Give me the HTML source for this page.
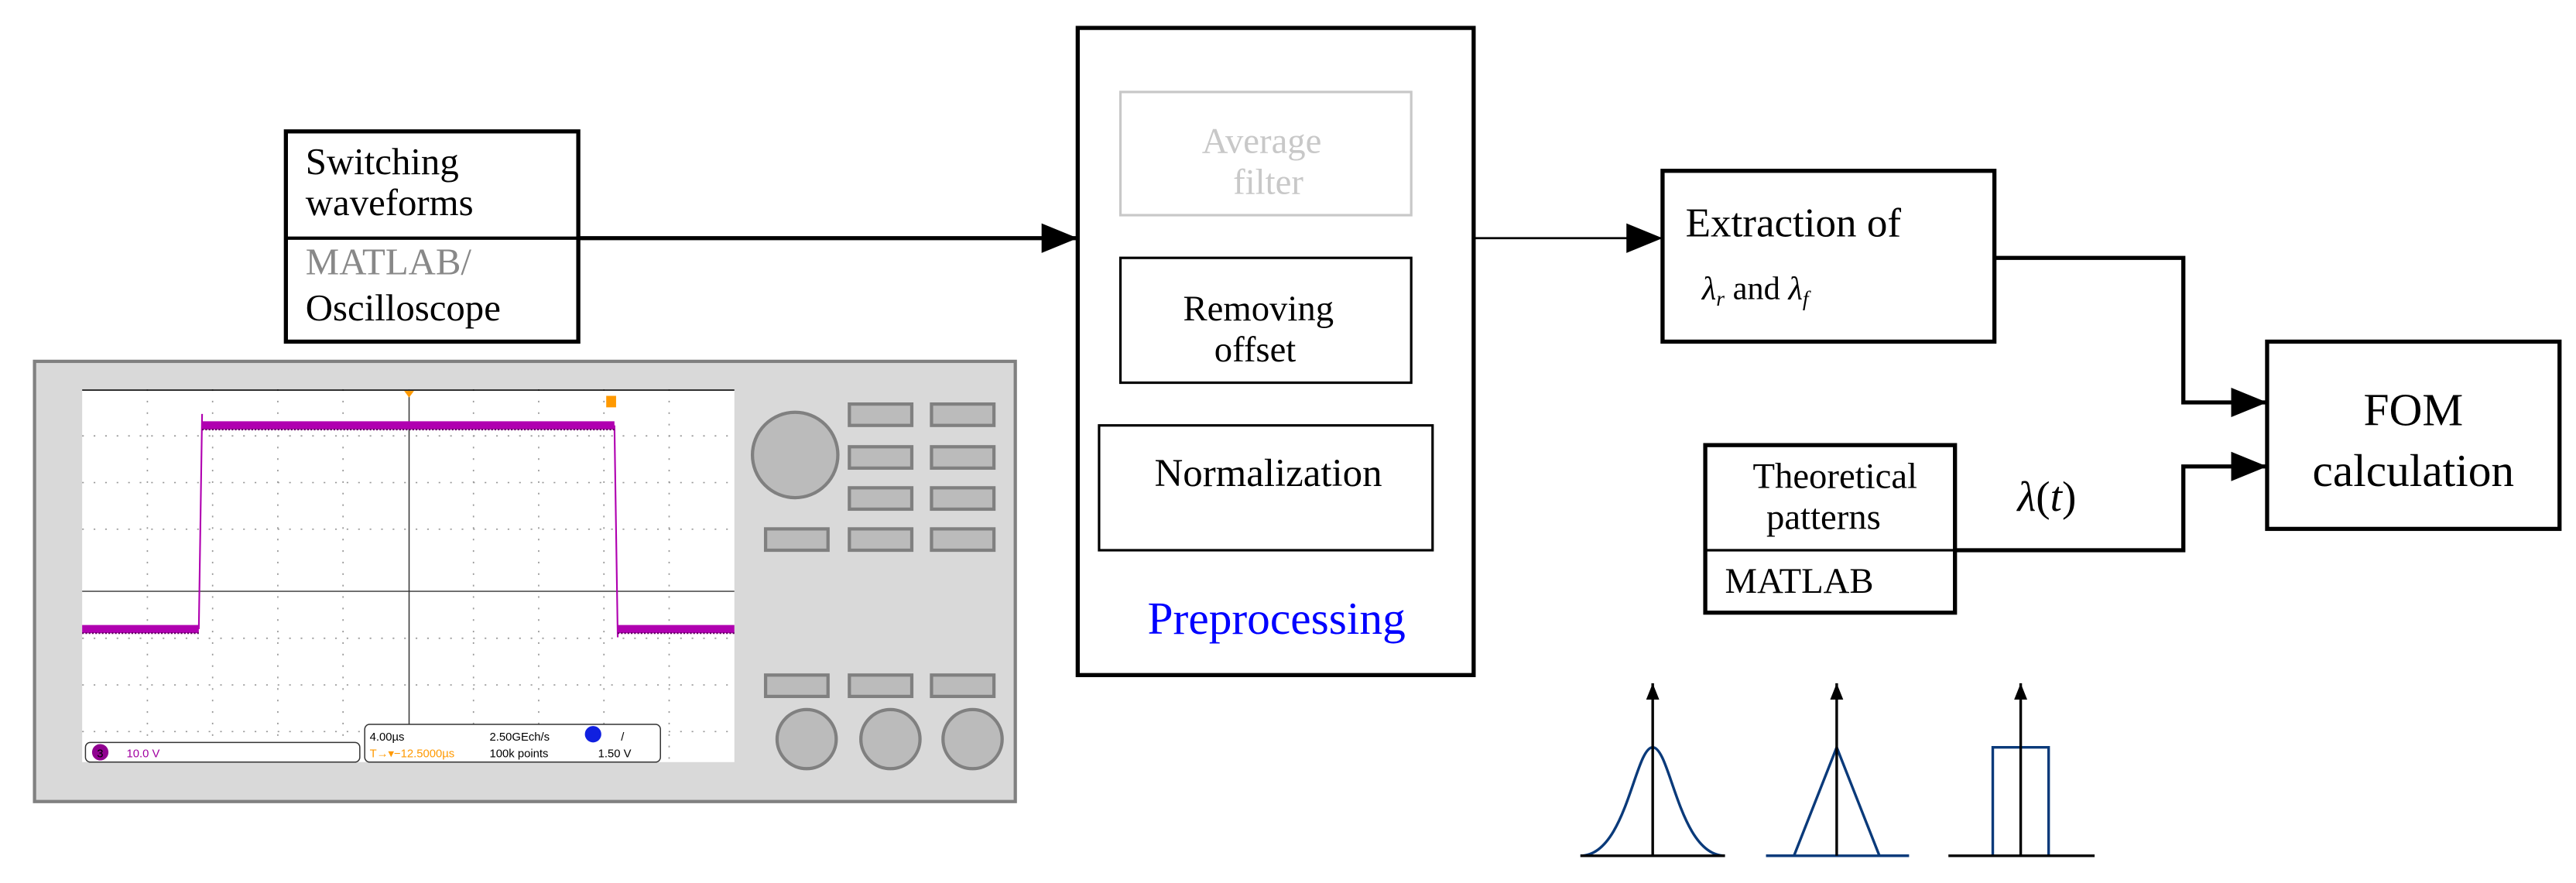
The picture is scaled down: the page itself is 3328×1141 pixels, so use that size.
<!DOCTYPE html>
<html><head><meta charset="utf-8"><style>html,body{margin:0;padding:0;background:#fff}svg{display:block}
svg text{font-family:"Liberation Serif",serif}
svg text.s{font-family:"Liberation Sans",sans-serif}</style></head>
<body>
<svg xmlns="http://www.w3.org/2000/svg" width="3328" height="1141" viewBox="0 0 1568 537.6">
<defs>
<marker id="ah" markerWidth="10" markerHeight="8" refX="10" refY="4" orient="auto" markerUnits="userSpaceOnUse"><path d="M0,0 L10,4 L0,8z" fill="#000"/></marker>
<marker id="ahb" markerWidth="22" markerHeight="18" refX="22" refY="9" orient="auto" markerUnits="userSpaceOnUse"><path d="M0,0 L22,9 L0,18z" fill="#000"/></marker>
</defs>

<!-- Oscilloscope -->
<rect x="21" y="220" width="597" height="268" fill="#d9d9d9" stroke="#808080" stroke-width="2"/>
<rect x="50" y="237" width="397" height="227" fill="#fff"/>
<g stroke="#999" stroke-width="0.8" stroke-dasharray="1,6">
<line x1="89.7" y1="237" x2="89.7" y2="464"/><line x1="129.4" y1="237" x2="129.4" y2="464"/><line x1="169.1" y1="237" x2="169.1" y2="464"/><line x1="208.8" y1="237" x2="208.8" y2="464"/><line x1="288.2" y1="237" x2="288.2" y2="464"/><line x1="327.9" y1="237" x2="327.9" y2="464"/><line x1="367.6" y1="237" x2="367.6" y2="464"/><line x1="407.3" y1="237" x2="407.3" y2="464"/>
<line x1="50" y1="265.4" x2="447" y2="265.4"/><line x1="50" y1="293.8" x2="447" y2="293.8"/><line x1="50" y1="322.2" x2="447" y2="322.2"/><line x1="50" y1="388.6" x2="447" y2="388.6"/><line x1="50" y1="417" x2="447" y2="417"/><line x1="50" y1="445.4" x2="447" y2="445.4"/>
</g>
<line x1="50" y1="237.5" x2="447" y2="237.5" stroke="#000" stroke-width="0.8"/>
<line x1="50" y1="360" x2="447" y2="360" stroke="#333" stroke-width="0.7"/>
<line x1="249" y1="237" x2="249" y2="464" stroke="#333" stroke-width="0.7"/>
<path d="M50,383 L121,383 M123,259 L374,259 M376,383 L447,383" fill="none" stroke="#b000b0" stroke-width="5"/>
<path d="M121,383 L123,252 M374,259 L376,388" fill="none" stroke="#b000b0" stroke-width="1"/>
<path d="M50,385.5 L121,385.5 M123,261.5 L374,261.5 M376,385.5 L447,385.5" fill="none" stroke="#600060" stroke-width="1" stroke-dasharray="1,1"/>
<path d="M246,238 L252,238 L249,242z" fill="#f90"/>
<rect x="369" y="241" width="6" height="7" fill="#f90"/>
<rect x="52" y="452" width="167" height="12" rx="3" fill="#fff" stroke="#333" stroke-width="0.7"/>
<rect x="222" y="441" width="180" height="23" rx="3" fill="#fff" stroke="#333" stroke-width="0.7"/>
<circle cx="61" cy="458" r="5" fill="#900090"/>
<text class="s" x="59" y="461" font-size="7" fill="#000">3</text>
<text class="s" x="77" y="461" font-size="7" fill="#a000a0">10.0 V</text>
<text class="s" x="225" y="451" font-size="7" fill="#000">4.00µs</text>
<text class="s" x="298" y="451" font-size="7" fill="#000">2.50GEch/s</text>
<circle cx="361" cy="447" r="5" fill="#1020e0"/>
<text class="s" x="378" y="451" font-size="7" fill="#000">/</text>
<text class="s" x="225" y="461" font-size="7" fill="#f90">T→▾−12.5000µs</text>
<text class="s" x="298" y="461" font-size="7" fill="#000">100k points</text>
<text class="s" x="364" y="461" font-size="7" fill="#000">1.50 V</text>
<g fill="#bbb" stroke="#808080" stroke-width="2">
<circle cx="484" cy="277" r="26"/>
<rect x="517" y="246" width="38" height="13"/><rect x="567" y="246" width="38" height="13"/>
<rect x="517" y="272" width="38" height="13"/><rect x="567" y="272" width="38" height="13"/>
<rect x="517" y="297" width="38" height="13"/><rect x="567" y="297" width="38" height="13"/>
<rect x="466" y="322" width="38" height="13"/><rect x="517" y="322" width="38" height="13"/><rect x="567" y="322" width="38" height="13"/>
<rect x="466" y="411" width="38" height="13"/><rect x="517" y="411" width="38" height="13"/><rect x="567" y="411" width="38" height="13"/>
<circle cx="491" cy="450" r="18"/><circle cx="542" cy="450" r="18"/><circle cx="592" cy="450" r="18"/>
</g>

<!-- Switching box -->
<rect x="174" y="80" width="178" height="128" fill="#fff" stroke="#000" stroke-width="2.5"/>
<line x1="174" y1="145" x2="352" y2="145" stroke="#000" stroke-width="2"/>
<g font-size="23">
<text x="186" y="106">Switching</text>
<text x="186" y="131">waveforms</text>
<text x="186" y="167" fill="#888">MATLAB/</text>
<text x="186" y="195">Oscilloscope</text>
</g>
<line x1="352" y1="145" x2="656" y2="145" stroke="#000" stroke-width="2.5" marker-end="url(#ahb)"/>

<!-- Preprocessing -->
<rect x="656" y="17" width="241" height="394" fill="none" stroke="#000" stroke-width="2.5"/>
<rect x="682" y="56" width="177" height="75" fill="none" stroke="#c8c8c8" stroke-width="1.5"/>
<text x="768" y="93" font-size="22" fill="#c8c8c8" text-anchor="middle">Average</text>
<text x="772" y="118" font-size="22" fill="#c8c8c8" text-anchor="middle">filter</text>
<rect x="682" y="157" width="177" height="76" fill="none" stroke="#000" stroke-width="1.5"/>
<text x="766" y="195" font-size="22" text-anchor="middle">Removing</text>
<text x="764" y="220" font-size="22" text-anchor="middle">offset</text>
<rect x="669" y="259" width="203" height="76" fill="none" stroke="#000" stroke-width="1.5"/>
<text x="772" y="296" font-size="24" text-anchor="middle">Normalization</text>
<text x="777" y="386" font-size="28" fill="#0000ff" text-anchor="middle">Preprocessing</text>

<line x1="897" y1="145" x2="1012" y2="145" stroke="#000" stroke-width="1.3" marker-end="url(#ahb)"/>

<!-- Extraction -->
<rect x="1012" y="104" width="202" height="104" fill="none" stroke="#000" stroke-width="2.5"/>
<text x="1026" y="144" font-size="25">Extraction of</text>
<text x="1036" y="182" font-size="20"><tspan font-style="italic">λ</tspan><tspan font-size="13" font-style="italic" dy="4">r</tspan><tspan dy="-4">  and </tspan><tspan font-style="italic">λ</tspan><tspan font-size="13" font-style="italic" dy="4">f</tspan></text>

<path d="M1214,157 L1329,157 L1329,245 L1380,245" fill="none" stroke="#000" stroke-width="2.5" marker-end="url(#ahb)"/>
<path d="M1190,335 L1329,335 L1329,284 L1380,284" fill="none" stroke="#000" stroke-width="2.5" marker-end="url(#ahb)"/>

<!-- FOM -->
<rect x="1380" y="208" width="178" height="114" fill="none" stroke="#000" stroke-width="2.5"/>
<text x="1469" y="259" font-size="28" text-anchor="middle">FOM</text>
<text x="1469" y="296" font-size="28" text-anchor="middle">calculation</text>

<!-- Theoretical -->
<rect x="1038" y="271" width="152" height="102" fill="none" stroke="#000" stroke-width="2.5"/>
<line x1="1038" y1="335" x2="1190" y2="335" stroke="#000" stroke-width="1.5"/>
<text x="1117" y="297" font-size="22" text-anchor="middle">Theoretical</text>
<text x="1110" y="322" font-size="22" text-anchor="middle">patterns</text>
<text x="1050" y="361" font-size="22">MATLAB</text>
<text x="1228" y="311" font-size="26"><tspan font-style="italic">λ</tspan>(<tspan font-style="italic">t</tspan>)</text>

<!-- pattern icons -->
<g stroke-width="1.6" fill="none">
<path d="M962,521 C990,521 995,455 1006,455 C1017,455 1022,521 1050,521" stroke="#0a3a7a"/>
<path d="M1075,521 L1092,521 L1118,455 L1144,521 L1162,521" stroke="#0a3a7a"/>
<path d="M1213,521 L1213,455 L1247,455 L1247,521" stroke="#0a3a7a"/>
<g stroke="#000">
<line x1="962" y1="521" x2="1050" y2="521"/><line x1="1006" y1="521" x2="1006" y2="416" marker-end="url(#ah)"/>
<line x1="1075" y1="521" x2="1162" y2="521" stroke="#0a3a7a"/><line x1="1118" y1="521" x2="1118" y2="416" marker-end="url(#ah)"/>
<line x1="1186" y1="521" x2="1275" y2="521"/><line x1="1230" y1="521" x2="1230" y2="416" marker-end="url(#ah)"/>
</g>
</g>
</svg>
</body></html>
